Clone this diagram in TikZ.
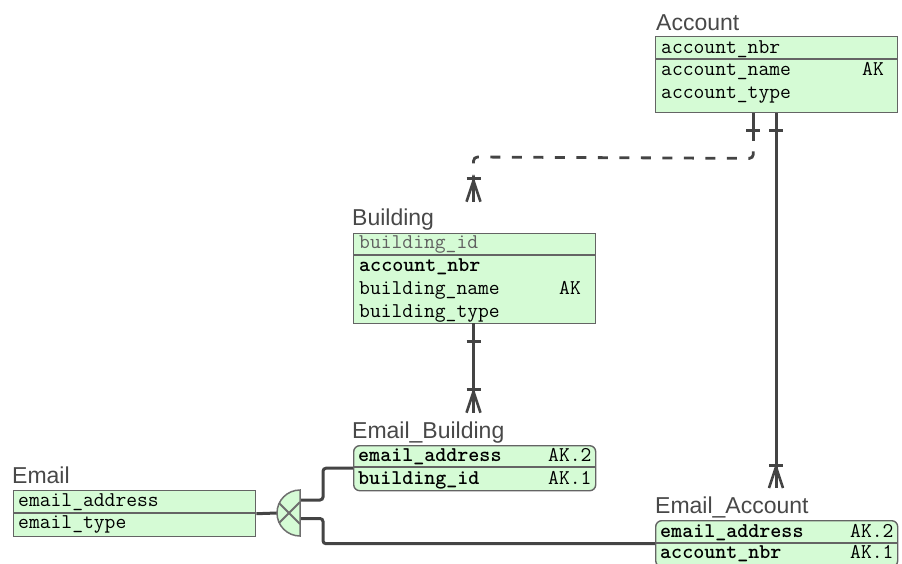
\documentclass[tikz,border=0pt]{standalone}
\usepackage{fontspec}
\setmainfont{Liberation Sans}
\usetikzlibrary{calc}

\definecolor{entfill}{RGB}{213,251,213}
\definecolor{entline}{RGB}{100,100,100}
\definecolor{relline}{RGB}{68,68,68}
\definecolor{titlegray}{RGB}{72,72,72}
\definecolor{subline}{RGB}{110,110,110}

\begin{document}
\begin{tikzpicture}[x=1pt,y=-1pt,
  entity/.style={draw=entline, fill=entfill, line width=1.4pt, inner sep=0pt,
    anchor=north west, minimum width=242pt},
  weakentity/.style={entity, rounded corners=6pt},
  sepline/.style={draw=entline, line width=1.4pt},
  title/.style={anchor=base west, inner sep=0pt, text=titlegray,
    font=\fontsize{23}{23}\selectfont},
  attr/.style={anchor=base west, inner sep=0pt,
    font=\ttfamily\fontsize{21}{21}\selectfont},
  keyattr/.style={anchor=base west, inner sep=0pt,
    font=\ttfamily\bfseries\fontsize{21}{21}\selectfont},
  rel/.style={draw=relline, line width=3pt},
  reldash/.style={draw=relline, line width=2.8pt,
    dash pattern=on 10pt off 11.5pt, dash phase=13.5pt},
  subtype/.style={draw=subline, fill=entfill, line width=1.5pt},
  subcross/.style={draw=subline, line width=2pt},
  oneend/.pic={\draw[rel] (-7,0) -- (7,0);},
  onestub/.pic={\draw[rel] (0,-17.3) -- (0,10); \draw[rel] (-7,0) -- (7,0);},
  manyend/.pic={
    \draw[rel] (0,-26) -- (0,0);
    \draw[rel] (-7,-23) -- (7,-23);
    \draw[draw=relline, line width=2.6pt] (-7,0) -- (0,-21) -- (7,0);
  },
]
\useasboundingbox (0,0) rectangle (902,563);
\clip (0,0) rectangle (902,563);

% ---------- Account ----------
\node[title] (accountT) at (656,30) {Account};
\node[entity, minimum height=76pt] (account) at (655,36) {};
\draw[sepline] ([yshift=-23pt]account.north west) -- ([yshift=-23pt]account.north east);
\node[attr] (acc1) at (661,53) {account\_nbr};
\node[attr] (acc2) at (661,75) {account\_name};
\node[attr] (acc2k) at (862,75) {AK};
\node[attr] (acc3) at (661,98) {account\_type};

% ---------- Building ----------
\node[title] (buildingT) at (352,225) {Building};
\node[entity, minimum height=90pt] (building) at (353,233) {};
\draw[sepline] ([yshift=-22pt]building.north west) -- ([yshift=-22pt]building.north east);
\node[attr, text=black!62] (bld1) at (359,248) {building\_id};
\node[keyattr] (bld2) at (359,271) {account\_nbr};
\node[attr] (bld3) at (359,294) {building\_name};
\node[attr] (bld3k) at (559,294) {AK};
\node[attr] (bld4) at (359,317) {building\_type};

% ---------- Email_Building ----------
\node[title] (ebldT) at (352,438) {Email\_Building};
\node[weakentity, minimum height=45pt] (ebld) at (353,445) {};
\draw[sepline] ([yshift=-22pt]ebld.north west) -- ([yshift=-22pt]ebld.north east);
\node[keyattr] (eb1) at (358,461) {email\_address};
\node[attr] (eb1k) at (548,461) {AK.2};
\node[keyattr] (eb2) at (358,484) {building\_id};
\node[attr] (eb2k) at (548,484) {AK.1};

% ---------- Email ----------
\node[title] (emailT) at (12,483) {Email};
\node[entity, minimum height=46pt] (email) at (13,490) {};
\draw[sepline] ([yshift=-23pt]email.north west) -- ([yshift=-23pt]email.north east);
\node[attr] (em1) at (18,506) {email\_address};
\node[attr] (em2) at (18,528) {email\_type};

% ---------- Email_Account ----------
\node[title] (eaccT) at (655,513) {Email\_Account};
\node[weakentity, minimum height=46pt] (eacc) at (655,520) {};
\draw[sepline] ([yshift=-23pt]eacc.north west) -- ([yshift=-23pt]eacc.north east);
\node[keyattr] (ea1) at (660,537) {email\_address};
\node[attr] (ea1k) at (850,537) {AK.2};
\node[keyattr] (ea2) at (660,558) {account\_nbr};
\node[attr] (ea2k) at (850,558) {AK.1};

% ---------- connection points ----------
\coordinate (accDash) at ($(account.south west)+(98.3,0)$);
\coordinate (accSolid) at ($(account.south west)+(121,0)$);
\coordinate (bldIn) at (473.5,201.7);
\coordinate (bldOut) at (473.5,323);
\coordinate (ebldIn) at (473.5,412.7);
\coordinate (eaccIn) at (776,488);
\coordinate (subC) at (300,513);

% Account -> Building (non-identifying, dashed)
\draw[reldash, rounded corners=4pt] ($(accDash)+(0,30)$) -- ($(accDash)+(0,45)$) -- (473.5,157) -- ($(bldIn)+(0,-26)$);
\pic at ($(accDash)+(0,17.3)$) {onestub};
\pic at (bldIn) {manyend};

% Account -> Email_Account
\draw[rel] (accSolid) -- (eaccIn);
\pic at ($(accSolid)+(0,17.3)$) {oneend};
\pic at (eaccIn) {manyend};

% Building -> Email_Building
\draw[rel] (bldOut) -- (ebldIn);
\pic at ($(bldOut)+(0,18.7)$) {oneend};
\pic at (ebldIn) {manyend};

% Email -> subtype discriminator
\draw[rel] (email.east) -- ($(subC)+(-23,0)$);
\draw[rel, rounded corners=3pt] ($(subC)+(0,-13)$) -- ++(23,0) |- (ebld.west);
\draw[rel, rounded corners=3pt] ($(subC)+(0,5.5)$) -- ++(23,0) |- (eacc.west);
\draw[subtype] ($(subC)+(0,-23)$) arc[start angle=270, end angle=90, radius=23] -- cycle;
\draw[subcross] ($(subC)+(-21,-10)$) -- ($(subC)+(0,11)$);
\draw[subcross] ($(subC)+(-21,10)$) -- ($(subC)+(0,-11)$);
\end{tikzpicture}
\end{document}
